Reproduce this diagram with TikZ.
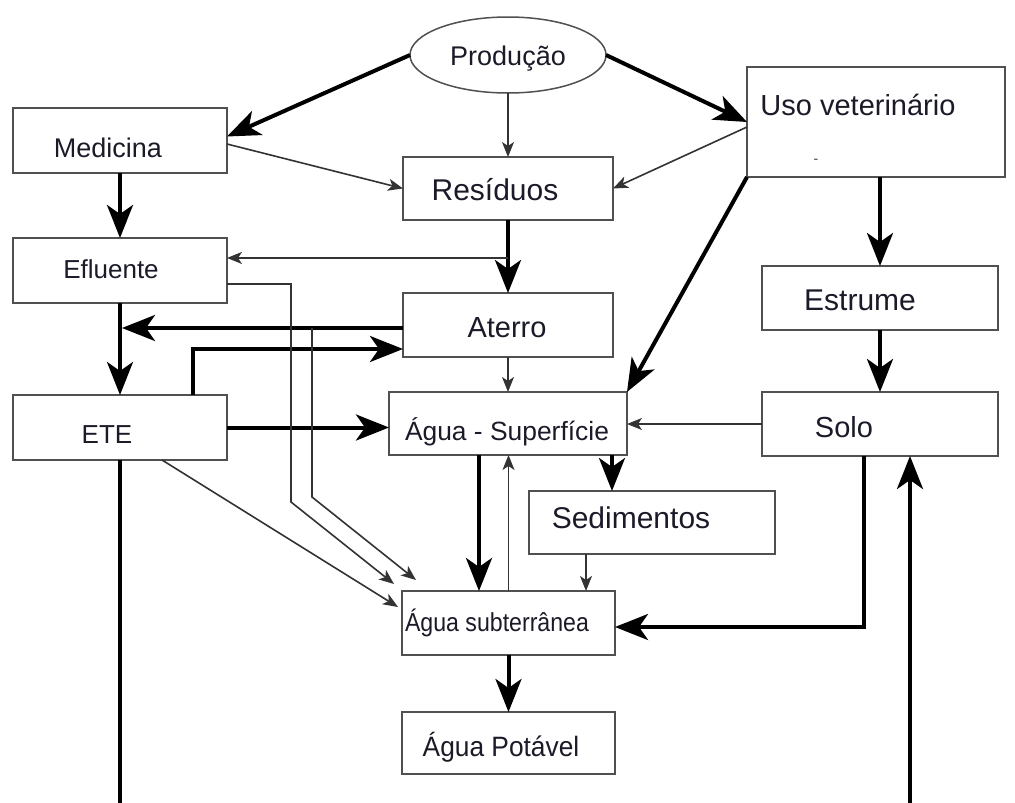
\documentclass[tikz,border=0pt]{standalone}
\usepackage{fontspec}
\setmainfont{Liberation Sans}
\usetikzlibrary{arrows.meta,shapes.geometric,calc}
\definecolor{boxgray}{HTML}{505050}
\definecolor{linegray}{HTML}{333333}
\definecolor{txt}{HTML}{1A1A28}
\newcommand\myfs[1]{\fontsize{#1}{#1}\selectfont}
\begin{document}
\begin{tikzpicture}[x=1pt,y=-1pt,
  box/.style={draw=boxgray,line width=2pt,rectangle,inner sep=0pt,outer sep=0pt},
  oval/.style={draw=boxgray,line width=1.5pt,ellipse,inner sep=0pt,outer sep=0pt},
  lbl/.style={inner sep=0pt,outer sep=0pt,text=txt,anchor=base},
  thk/.style={line width=4pt,draw=black,-{Stealth[length=33pt,width=26pt,inset=9pt]}},
  thn/.style={line width=1.6pt,draw=linegray,-{Stealth[length=15pt,width=12pt,inset=4pt]}},
]
\useasboundingbox (0,0) rectangle (1015,803);

% shapes
\node[oval,minimum width=196pt,minimum height=76pt] (prod) at (508,55) {};
\node[box,minimum width=214pt,minimum height=65pt] (med) at (120,140.5) {};
\node[box,minimum width=214pt,minimum height=65pt] (eff) at (120,270.5) {};
\node[box,minimum width=214pt,minimum height=65pt] (ete) at (120,427.5) {};
\node[box,minimum width=210pt,minimum height=63pt] (res) at (508,188.5) {};
\node[box,minimum width=210pt,minimum height=64pt] (ater) at (508,325) {};
\node[box,minimum width=238pt,minimum height=63pt] (asup) at (508,423.5) {};
\node[box,minimum width=258pt,minimum height=110pt] (uso) at (876,122) {};
\node[box,minimum width=236pt,minimum height=64pt] (est) at (880,298) {};
\node[box,minimum width=236pt,minimum height=64pt] (solo) at (880,424) {};
\node[box,minimum width=246pt,minimum height=63pt] (sed) at (652,522.5) {};
\node[box,minimum width=213pt,minimum height=64pt] (asub) at (508.5,623) {};
\node[box,minimum width=213pt,minimum height=62pt] (apot) at (508.5,743) {};

% texts
\node[lbl,font=\myfs{27}] (tprod) at (508,65) {Produção};
\node[lbl,font=\myfs{27}] (tmed) at (108,157) {Medicina};
\node[lbl,font=\myfs{30}] (tres) at (495,200) {Resíduos};
\node[lbl,font=\myfs{29}] (tuso) at (858,115) {Uso veterinário};
\node[lbl,font=\myfs{14},text=darkgray] (tdash) at (816,163) {-};
\node[lbl,font=\myfs{26}] (teff) at (111,278) {Efluente};
\node[lbl,font=\myfs{29}] (tater) at (507,337) {Aterro};
\node[lbl,font=\myfs{26}] (tete) at (107,443) {ETE};
\node[lbl,font=\myfs{26.4}] (tasup) at (507,440) {Água - Superfície};
\node[lbl,font=\myfs{30}] (test) at (860,310) {Estrume};
\node[lbl,font=\myfs{29}] (tsolo) at (844,437) {Solo};
\node[lbl,font=\myfs{30}] (tsed) at (631,528) {Sedimentos};
\node[lbl,font=\myfs{26}] (tasub) at (497,631) {\scalebox{0.89}[1]{Água subterrânea}};
\node[lbl,font=\myfs{28}] (tapot) at (501,756) {\scalebox{0.94}[1]{Água Potável}};

% connectors
\draw[thk] (prod.west) -- ([yshift=4pt]med.east);
\draw[thn] (prod.south) -- (res.north);
\draw[thk] (prod.east) -- (uso.west);
\draw[thn] ([yshift=-3.5pt]med.east) -- (res.west);
\draw[thn] ([yshift=-5pt]uso.west) -- (res.east);
\draw[thk] (med.south) -- (eff.north);
\draw[thk] (res.south) -- (ater.north);
\path (res.south) -- (ater.north) coordinate[pos=0.52] (b1);
\draw[thn] (b1) -- (b1 -| eff.east);
\draw[thk] (eff.south) -- (ete.north);
\draw[thk,shorten >=2pt] ([yshift=-3pt]ater.west) -- ([yshift=-3pt]ater.west -| eff.south);
\draw[thk] ([xshift=73pt]ete.north) |- ([yshift=-24pt]ater.west);
\draw[thk] (ete.east) -- (ete.east -| asup.west);
\draw[thn] (ater.south) -- (asup.north);
\draw[thk] (uso.south west) -- (asup.north east);
\draw[thk] (uso.south -| est.north) -- (est.north);
\draw[thk] (est.south) -- (solo.north);
\draw[thn] (solo.west) -- (solo.west -| asup.east);
\draw[thk] ([xshift=104pt]asup.south) -- ([xshift=104pt]asup.south |- sed.north);
\draw[thk] ([xshift=-29pt]asup.south) -- ([xshift=-29pt]asup.south |- asub.north);
\draw[thn] (asub.north) -- (asub.north |- asup.south);
\draw[thn] ([xshift=-66pt]sed.south) -- ([xshift=-66pt]sed.south |- asub.north);
\coordinate (e1) at (291,284);
\coordinate (e2) at (291,502);
\draw[thn] (e1 -| eff.east) -- (e1) -- (e2) -- ([xshift=-8pt,yshift=7pt]asub.north west);
\coordinate (b2) at (312,328);
\coordinate (b3) at (312,497);
\draw[thn] (b2) -- (b3) -- ([xshift=14pt,yshift=11pt]asub.north west);
\draw[thn] ([xshift=42pt]ete.south) -- ([xshift=-4pt,yshift=16pt]asub.west);
\draw[thk] (asub.south) -- (apot.north);
\draw[thk] ([xshift=-16pt]solo.south) |- ([yshift=-4pt]asub.east);
\draw[thk] (ete.south) -- ++(0,345) -| ([xshift=30pt]solo.south);
\end{tikzpicture}
\end{document}
